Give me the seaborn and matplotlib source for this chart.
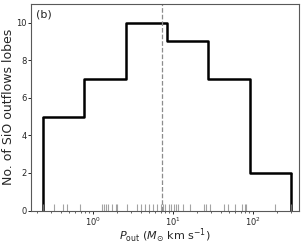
import numpy as np
import matplotlib
matplotlib.use("Agg")
import matplotlib.pyplot as plt
import seaborn as sns

# outflow momentum of each SiO lobe (Msun km/s)
p_out = [0.237, 0.325, 0.422, 0.473, 0.688,
         1.30, 1.37, 1.45, 1.54, 1.73, 1.94, 2.00,
         2.66, 3.55, 3.98, 4.47, 5.01, 5.62, 6.31, 7.08, 7.50, 7.94,
         8.91, 9.44, 10.3, 10.9, 11.5, 13.3, 16.3, 24.4, 25.8,
         29.0, 43.4, 48.7, 59.6, 72.9, 79.4, 81.8,
         188.0, 299.0]
n_bins = 6
panel_label = "(b)"

sns.set_style("ticks")
plt.rcParams["font.family"] = ["DejaVu Sans"]

fig = plt.figure(figsize=(3.07, 2.44), dpi=100)
ax = fig.add_axes([0.101, 0.137, 0.873, 0.847])

sns.histplot(x=p_out, bins=n_bins, log_scale=True, element="step", fill=False,
             color="black", linewidth=1.8, ax=ax)
# close the outer edges of the step outline down to zero
counts, log_edges = np.histogram(np.log10(p_out), bins=n_bins)
edges = 10 ** log_edges
ax.vlines([edges[0], edges[-1]], 0, [counts[0], counts[-1]], color="black", linewidth=1.8)

sns.rugplot(x=p_out, height=0.03, color="0.55", linewidth=0.8, alpha=0.8, ax=ax)
ax.axvline(np.median(p_out), color="0.55", linestyle="--", linewidth=0.9)

ax.set_xlim(0.168, 376)
ax.set_ylim(0, 11)
ax.set_yticks([0, 2, 4, 6, 8, 10])
ax.set_xlabel(r"$P_{\rm out}$ ($M_{\odot}$ km s$^{-1}$)", fontsize=8)
ax.set_ylabel("No. of SiO outflows lobes", fontsize=9)
ax.yaxis.set_label_coords(-0.058, 0.5)
ax.xaxis.set_label_coords(0.5, -0.078)
ax.tick_params(labelsize=6, length=2.5, width=0.7, pad=0.8)
ax.tick_params(which="minor", length=1.6, width=0.5)
for s in ax.spines.values():
    s.set_visible(True)
    s.set_color("0.35")
    s.set_linewidth(0.8)
ax.text(0.02, 0.975, panel_label, transform=ax.transAxes, ha="left", va="top", fontsize=8)

fig.savefig("out.png", dpi=100)
